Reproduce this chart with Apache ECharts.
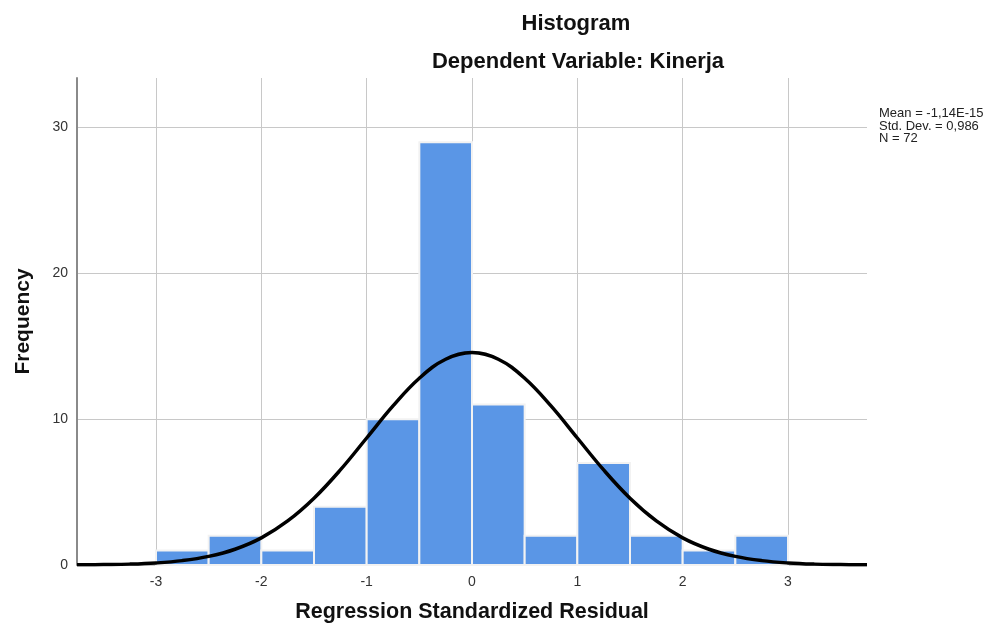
<!DOCTYPE html>
<html>
<head>
<meta charset="utf-8">
<script src="https://cdn.jsdelivr.net/npm/echarts@6/dist/echarts.min.js"></script>
<style>
  html, body { margin: 0; padding: 0; background: #fff; }
  #chart { width: 1000px; height: 630px; }
</style>
</head>
<body>
<div id="chart"></div>
<script>
// histogram bins (left edge, right edge) and frequencies
const binStart = [-3, -2.5, -2, -1.5, -1, -0.5, 0, 0.5, 1, 1.5, 2, 2.5]
const binEnd = [-2.5, -2, -1.5, -1, -0.5, 0, 0.5, 1, 1.5, 2, 2.5, 3]
const counts = [1, 2, 1, 4, 10, 29, 11, 2, 7, 2, 1, 2]

// normal curve
const curveX = [-3.75, -3.5, -3.25, -3, -2.75, -2.5, -2.25, -2, -1.75, -1.5, -1.25, -1, -0.75, -0.5, -0.25, 0,
  0.25, 0.5, 0.75, 1, 1.25, 1.5, 1.75, 2, 2.25, 2.5, 2.75, 3, 3.25, 3.5, 3.75]
const curveY = [0.01, 0.03, 0.06, 0.14, 0.3, 0.59, 1.08, 1.86, 3.02, 4.58, 6.52, 8.71, 10.91, 12.81, 14.11, 14.57,
  14.11, 12.81, 10.91, 8.71, 6.52, 4.58, 3.02, 1.86, 1.08, 0.59, 0.3, 0.14, 0.06, 0.03, 0.01]

const xTicks = [-3, -2, -1, 0, 1, 2, 3]
const yTicks = [0, 10, 20, 30]

const stats = ['Mean = -1,14E-15', 'Std. Dev. = 0,986', 'N = 72']

const barData = binStart.map((s, i) => [s, binEnd[i], counts[i]])
const lineData = curveX.map((x, i) => [x, curveY[i]])

const font = 'Liberation Sans, Arial, sans-serif'

const chart = echarts.init(document.getElementById('chart'))
chart.setOption({
  animation: false,
  backgroundColor: '#fff',
  title: [
    {
      text: 'Histogram',
      left: 571, top: 8, textAlign: 'center',
      textStyle: { fontFamily: font, fontSize: 22, fontWeight: 'bold', color: '#111' }
    },
    {
      text: 'Dependent Variable: Kinerja',
      left: 573, top: 46, textAlign: 'center',
      textStyle: { fontFamily: font, fontSize: 22, fontWeight: 'bold', color: '#111' }
    }
  ],
  graphic: [
    {
      type: 'text',
      left: 879, top: 107,
      style: {
        text: stats.join('\n'),
        font: '13px ' + font,
        lineHeight: 12.5,
        fill: '#222'
      }
    }
  ],
  grid: { left: 77, right: 133, top: 78, bottom: 65, outerBoundsMode: 'none', containLabel: false },
  xAxis: {
    type: 'value',
    min: -3.75,
    max: 3.75,
    name: 'Regression Standardized Residual',
    nameLocation: 'middle',
    nameGap: 36,
    nameTextStyle: { fontFamily: font, fontSize: 21.5, fontWeight: 'bold', color: '#111' },
    axisLine: { show: false },
    axisTick: { show: false, customValues: xTicks },
    axisLabel: { customValues: xTicks, fontFamily: font, fontSize: 14, color: '#333', margin: 10 },
    splitLine: { show: true, lineStyle: { color: '#c8c8c8', width: 1 } }
  },
  yAxis: {
    type: 'value',
    min: 0,
    max: 33.4,
    name: 'Frequency',
    nameLocation: 'middle',
    nameGap: 43,
    nameTextStyle: { fontFamily: font, fontSize: 21, fontWeight: 'bold', color: '#111' },
    axisLine: { show: true, onZero: false, lineStyle: { color: '#8a8a8a', width: 2 } },
    axisTick: { show: false, customValues: yTicks },
    axisLabel: { customValues: yTicks, fontFamily: font, fontSize: 14, color: '#333', margin: 9 },
    splitLine: { show: true, lineStyle: { color: '#c8c8c8', width: 1 } }
  },
  series: [
    {
      type: 'custom',
      data: barData,
      encode: { x: [0, 1], y: 2 },
      renderItem(params, api) {
        const p0 = api.coord([api.value(0), api.value(2)])
        const p1 = api.coord([api.value(1), 0])
        return {
          type: 'rect',
          shape: { x: p0[0], y: p0[1], width: p1[0] - p0[0], height: p1[1] - p0[1] },
          style: { fill: '#5a96e6', stroke: '#f2f2f2', lineWidth: 2 }
        }
      },
      z: 2
    },
    {
      type: 'line',
      data: lineData,
      smooth: 0.4,
      showSymbol: false,
      symbol: 'none',
      lineStyle: { color: '#000', width: 3.5 },
      z: 3
    }
  ]
})
</script>
</body>
</html>
